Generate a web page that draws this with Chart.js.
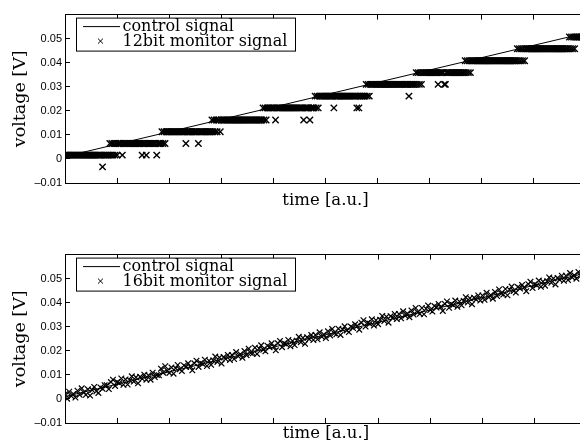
<!DOCTYPE html>
<html>
<head>
<meta charset="utf-8">
<script src="https://cdn.jsdelivr.net/npm/chart.js@4.4.1/dist/chart.umd.min.js"></script>
<style>
  html, body { margin: 0; padding: 0; overflow: hidden; background: #fff; }
  .panel { position: absolute; left: 0; }
</style>
</head>
<body>
<canvas id="plot12" class="panel" style="top:0" width="592" height="240"></canvas>
<canvas id="plot16" class="panel" style="top:240px" width="592" height="240"></canvas>
<script>
// axis ticks
const timeTicks = [0, 1, 2, 3, 4, 5, 6, 7, 8, 9, 10];
const voltTicks = [-0.01, 0, 0.01, 0.02, 0.03, 0.04, 0.05];

// control ramp (end points, time in a.u.)
const controlTime = [0, 10];
const controlVolt = [0.001, 0.0524];

// 12 bit readback: quantised levels [V] and runs of [levelIndex, sampleCount]
const bit12Step = 0.02;
const bit12Levels = [-0.0033, 0.0016, 0.0064, 0.0113, 0.0162, 0.0212, 0.0261, 0.0310, 0.0359, 0.0408, 0.0458, 0.0507];
const bit12Runs = [
  [1, 36], [0, 1], [1, 6],
  [2, 1], [1, 1], [2, 1], [1, 1], [2, 1], [1, 1], [2, 1], [1, 1], [2, 4], [1, 1], [2, 18], [1, 1], [2, 3], [1, 1], [2, 9], [1, 1], [2, 4],
  [3, 1], [2, 1], [3, 1], [2, 1], [3, 19], [2, 1], [3, 11], [2, 1], [3, 12],
  [4, 1], [3, 1], [4, 1], [3, 1], [4, 1], [3, 1], [4, 2], [3, 1], [4, 40],
  [5, 1], [4, 1], [5, 1], [4, 1], [5, 8], [4, 1], [5, 26], [4, 1], [5, 5], [4, 1], [5, 4],
  [6, 1], [5, 1], [6, 1], [5, 1], [6, 14], [5, 1], [6, 21], [5, 1], [6, 1], [5, 1], [6, 6],
  [7, 1], [6, 1], [7, 1], [6, 1], [7, 37], [6, 1], [7, 6],
  [8, 1], [7, 1], [8, 1], [7, 1], [8, 1], [7, 1], [8, 15], [7, 1], [8, 5], [7, 2], [8, 18],
  [9, 1], [8, 1], [9, 1], [8, 1], [9, 1], [8, 1], [9, 44],
  [10, 1], [9, 1], [10, 1], [9, 1], [10, 1], [9, 1], [10, 1], [9, 1], [10, 42],
  [11, 1], [10, 1], [11, 1], [10, 1], [11, 1], [10, 1], [11, 10]
];

// 16 bit readback [mV], one sample every bit16Step
const bit16Step = 0.04;
const bit16mV = [
  1.9, 0.1, 3.0, 1.2, 2.1, 0.6, 3.4, 1.7, 4.4, 2.7,
  1.7, 4.0, 1.4, 3.7, 5.0, 3.2, 2.5, 4.8, 4.2, 5.7,
  5.7, 4.1, 7.0, 8.0, 5.4, 7.0, 6.6, 8.5, 5.9, 8.1,
  6.0, 7.8, 9.4, 7.2, 9.0, 6.5, 9.2, 8.4, 10.1, 8.0,
  9.8, 8.0, 10.9, 9.1, 10.0, 9.8, 12.6, 10.9, 13.6, 11.8,
  10.8, 13.1, 10.5, 12.8, 14.1, 12.3, 11.6, 13.9, 13.3, 14.8,
  13.5, 11.9, 14.8, 15.9, 13.3, 14.9, 14.5, 16.3, 13.7, 15.9,
  14.2, 16.0, 17.6, 15.4, 17.2, 14.7, 17.4, 16.6, 18.3, 16.2,
  18.3, 16.6, 19.5, 17.7, 18.6, 17.1, 19.9, 18.2, 20.9, 19.1,
  19.0, 21.3, 18.7, 21.0, 22.3, 20.5, 19.8, 22.1, 21.5, 23.1,
  21.8, 20.2, 23.1, 24.1, 21.5, 23.1, 22.7, 24.5, 21.9, 24.1,
  22.4, 24.2, 25.8, 23.6, 25.4, 22.9, 25.6, 24.9, 26.6, 24.5,
  26.6, 24.8, 27.7, 25.9, 26.8, 25.3, 28.1, 26.4, 29.1, 27.3,
  26.9, 29.2, 26.6, 28.9, 30.2, 28.5, 27.8, 30.1, 29.5, 31.0,
  30.4, 28.8, 31.7, 32.7, 30.1, 31.7, 31.3, 33.1, 30.5, 32.7,
  31.1, 32.9, 34.5, 32.4, 34.2, 31.7, 34.4, 33.6, 35.3, 33.2,
  35.3, 33.5, 36.4, 34.6, 35.5, 34.0, 36.8, 35.1, 37.8, 36.0,
  35.4, 37.8, 35.2, 37.5, 38.8, 37.0, 36.3, 38.6, 38.0, 39.5,
  38.2, 36.6, 39.5, 40.5, 37.9, 39.5, 39.1, 40.9, 38.3, 40.5,
  38.9, 40.7, 42.3, 40.1, 41.9, 39.4, 42.1, 41.3, 43.0, 40.9,
  43.0, 41.2, 44.1, 42.3, 43.2, 41.7, 44.5, 42.8, 45.5, 43.8,
  43.4, 45.7, 43.1, 45.4, 46.7, 44.9, 44.2, 46.5, 45.9, 47.4,
  46.4, 44.8, 47.7, 48.7, 46.1, 47.7, 47.3, 49.2, 46.6, 48.8,
  47.1, 48.9, 50.5, 48.3, 50.1, 47.6, 50.3, 49.5, 51.2, 49.1,
  51.2, 49.4, 52.3, 50.5, 51.4, 50.0, 52.8, 51.1, 53.8, 52.0
];

const SERIF = 'DejaVu Serif';
const SANS = 'Liberation Sans';

function expandRuns(runs, levels, step) {
  const pts = [];
  runs.forEach(([lvl, n]) => {
    for (let k = 0; k < n; k++) pts.push({ x: pts.length * step, y: levels[lvl] });
  });
  return pts;
}

function controlPoints() {
  return controlTime.map((t, i) => ({ x: t, y: controlVolt[i] }));
}

function voltLabel(v) {
  if (Math.abs(v) < 1e-9) return '0';
  return v < 0 ? '\u2013' + (-v).toFixed(2) : v.toFixed(2);
}

// boxed legend in the upper left corner of the plot area
const boxLegend = {
  id: 'boxLegend',
  afterDatasetsDraw(chart) {
    const { ctx, chartArea } = chart;
    const sets = chart.data.datasets;
    const x0 = chartArea.left + 11.5, y0 = chartArea.top + 3.5;
    ctx.save();
    ctx.fillStyle = '#fff';
    ctx.strokeStyle = '#000';
    ctx.lineWidth = 1;
    ctx.fillRect(x0, y0, 219, 33);
    ctx.strokeRect(x0, y0, 219, 33);

    ctx.beginPath();
    ctx.moveTo(x0 + 6.5, y0 + 8.5);
    ctx.lineTo(x0 + 43.5, y0 + 8.5);
    ctx.strokeStyle = sets[0].borderColor;
    ctx.stroke();
    Chart.helpers.drawPoint(ctx, {
      pointStyle: sets[1].pointStyle,
      radius: 3.5,
      borderWidth: 1
    }, x0 + 24, y0 + 23);

    ctx.fillStyle = '#000';
    ctx.font = '16px "' + SERIF + '"';
    ctx.textBaseline = 'alphabetic';
    ctx.fillText(sets[0].label, x0 + 46, y0 + 13);
    ctx.fillText(sets[1].label, x0 + 46, y0 + 28);
    ctx.restore();
  }
};

function makePlot(canvasId, monitorLabel, monitorPoints, markSize, markWidth, xTitleGap) {
  const ctx = document.getElementById(canvasId).getContext('2d');
  return new Chart(ctx, {
    type: 'scatter',
    data: {
      datasets: [
        {
          label: 'control signal',
          data: controlPoints(),
          showLine: true,
          borderColor: '#000',
          borderWidth: 1,
          pointRadius: 0
        },
        {
          label: monitorLabel,
          data: monitorPoints,
          pointStyle: 'crossRot',
          pointRadius: markSize,
          borderColor: '#000',
          backgroundColor: '#000',
          borderWidth: markWidth
        }
      ]
    },
    options: {
      responsive: false,
      animation: false,
      devicePixelRatio: 1,
      layout: { padding: { top: 12, right: 3, left: 0, bottom: 0 } },
      plugins: {
        legend: { display: false },
        tooltip: { enabled: false }
      },
      scales: {
        x: {
          type: 'linear',
          position: 'bottom',
          min: 0,
          max: 10,
          afterBuildTicks: s => { s.ticks = timeTicks.map(v => ({ value: v })); },
          afterFit: s => { s.height = 57; },
          ticks: { display: false },
          grid: { drawOnChartArea: false, tickLength: -5, color: '#000' },
          border: { color: '#000', width: 1 },
          title: {
            display: true,
            text: 'time [a.u.]',
            color: '#000',
            font: { family: SERIF, size: 16.5 },
            padding: { top: 0, bottom: xTitleGap }
          }
        },
        xTop: {
          type: 'linear',
          position: 'top',
          min: 0,
          max: 10,
          afterBuildTicks: s => { s.ticks = timeTicks.map(v => ({ value: v })); },
          afterFit: s => { s.height = 0; },
          ticks: { display: false },
          grid: { drawOnChartArea: false, tickLength: -5, color: '#000' },
          border: { color: '#000', width: 1 }
        },
        y: {
          type: 'linear',
          position: 'left',
          min: -0.01,
          max: 0.06,
          afterBuildTicks: s => { s.ticks = voltTicks.map(v => ({ value: v })); },
          afterFit: s => { s.width = 65; },
          ticks: {
            color: '#000',
            padding: 8,
            font: { family: SANS, size: 11 },
            callback: v => voltLabel(v)
          },
          grid: { drawOnChartArea: false, tickLength: -5, color: '#000' },
          border: { color: '#000', width: 1 },
          title: {
            display: true,
            text: 'voltage [V]',
            color: '#000',
            font: { family: SERIF, size: 17.5 },
            padding: { top: 10, bottom: 0 }
          }
        }
      }
    },
    plugins: [boxLegend]
  });
}

makePlot('plot12', '12bit monitor signal', expandRuns(bit12Runs, bit12Levels, bit12Step), 4.5, 1.4, 29);
makePlot('plot16', '16bit monitor signal', bit16mV.map((v, i) => ({ x: i * bit16Step, y: v / 1000 })), 4, 1.2, 36);
</script>
</body>
</html>
